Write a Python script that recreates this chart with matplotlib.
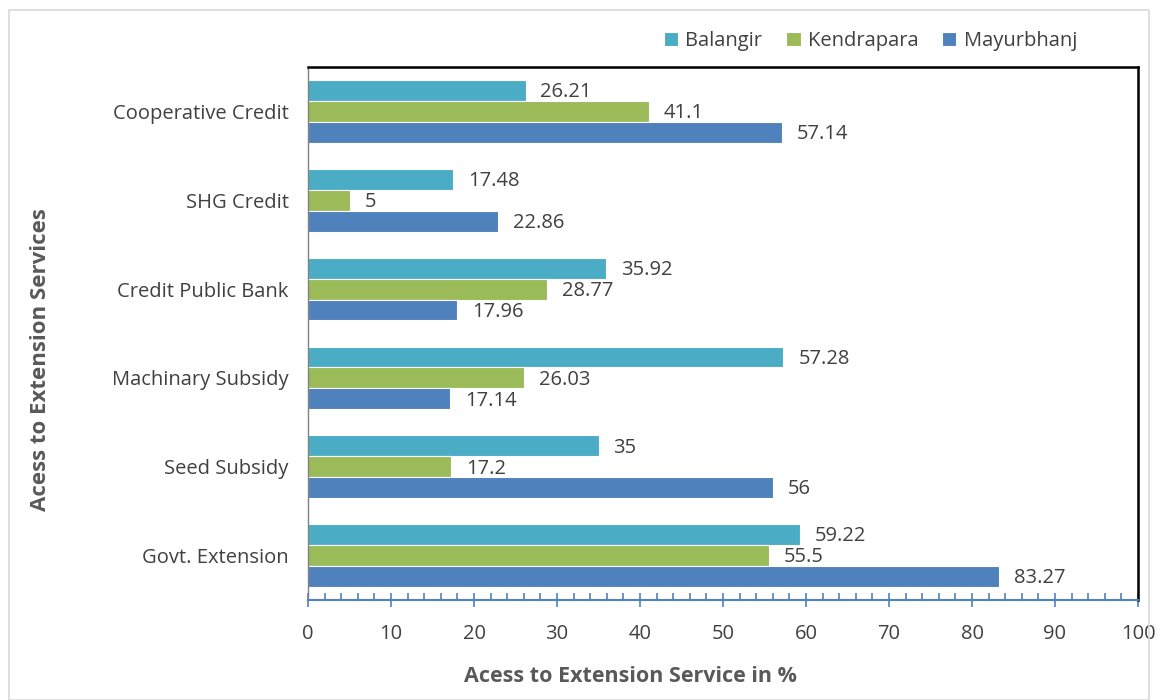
import matplotlib
matplotlib.use("Agg")
import matplotlib.pyplot as plt
import numpy as np
from matplotlib.patches import Rectangle
from matplotlib.ticker import MultipleLocator

categories = ["Govt. Extension", "Seed Subsidy", "Machinary Subsidy",
              "Credit Public Bank", "SHG Credit", "Cooperative Credit"]
balangir = [59.22, 35, 57.28, 35.92, 17.48, 26.21]
kendrapara = [55.5, 17.2, 26.03, 28.77, 5, 41.1]
mayurbhanj = [83.27, 56, 17.14, 17.96, 22.86, 57.14]
series_names = ["Balangir", "Kendrapara", "Mayurbhanj"]
colors = ["#4BACC6", "#9BBB59", "#4F81BD"]

plt.rcParams["font.family"] = ["Open Sans", "DejaVu Sans"]
text_color = "#404040"

fig = plt.figure(figsize=(11.58, 7.0), dpi=100)
fig.patches.append(Rectangle((9 / 1158, 0), 1 - 18 / 1158, 1 - 10 / 700,
                             transform=fig.transFigure, fill=False,
                             edgecolor="#D9D9D9", linewidth=1.2))
ax = fig.add_axes([308 / 1158, 1 - 600 / 700, 830 / 1158, 533 / 700])

y = np.arange(len(categories))
h = 0.235
offsets = [h, 0, -h]
for vals, off, col, name in zip([balangir, kendrapara, mayurbhanj], offsets, colors, series_names):
    bars = ax.barh(y + off, vals, height=h, color=col, edgecolor="white",
                   linewidth=0.8, label=name)
    for b, v in zip(bars, vals):
        ax.text(v + 1.8, b.get_y() + b.get_height() / 2 - 0.02, f"{v:g}",
                va="center", ha="left", fontsize=14.5, color=text_color)

ax.set_xlim(0, 100)
ax.set_ylim(-0.5, 5.5)
ax.set_yticks(y)
ax.set_yticklabels(categories, fontsize=14.5, color=text_color)
ax.tick_params(axis="y", length=0, pad=14)
ax.xaxis.set_major_locator(MultipleLocator(10))
ax.xaxis.set_minor_locator(MultipleLocator(2))
ax.tick_params(axis="x", which="major", direction="inout", length=10, width=1.2,
               color="#4F81BD", labelsize=14.5, labelcolor=text_color, pad=12)
ax.tick_params(axis="x", which="minor", direction="in", length=5, width=1.2,
               color="#4F81BD")

for side in ["top", "right"]:
    ax.spines[side].set_color("black")
    ax.spines[side].set_linewidth(1.8)
ax.spines["left"].set_color("#808080")
ax.spines["left"].set_linewidth(1.0)
ax.spines["bottom"].set_color("#4F81BD")
ax.spines["bottom"].set_linewidth(1.5)

fig.text(630 / 1158, 1 - 677 / 700, "Acess to Extension Service in %",
         fontsize=15.5, fontweight="bold", color="#595959", ha="center", va="center")
fig.text(41 / 1158, 1 - 360 / 700, "Acess to Extension Services", rotation=90,
         fontsize=16, fontweight="bold", color="#595959", ha="center", va="center")

leg = fig.legend(loc="center left", bbox_to_anchor=(646 / 1158, 1 - 41 / 700),
                 ncol=3, frameon=False, fontsize=14.5, handlelength=0.7,
                 handleheight=0.7, handletextpad=0.35, columnspacing=1.2)
for t in leg.get_texts():
    t.set_color(text_color)

fig.savefig("out.png", dpi=100)
